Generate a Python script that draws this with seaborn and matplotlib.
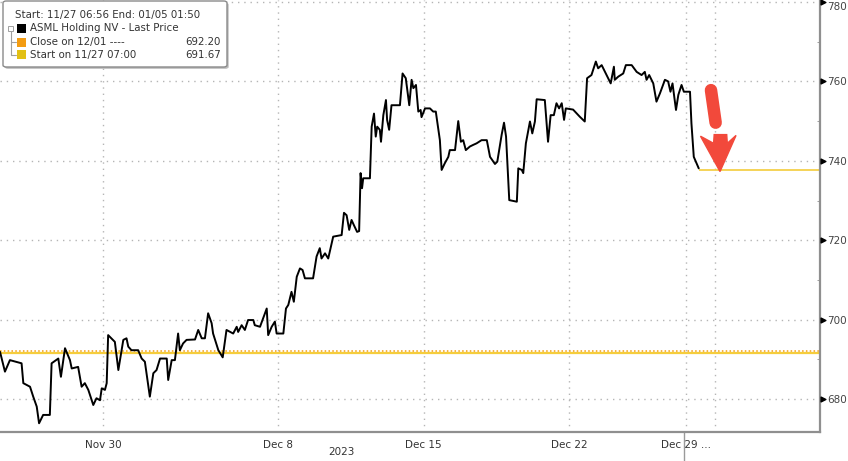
import numpy as np
import pandas as pd
import matplotlib
matplotlib.use("Agg")
import matplotlib.pyplot as plt
import matplotlib.transforms as mtransforms
from matplotlib.patches import FancyBboxPatch, Rectangle, Polygon
import seaborn as sns

# ASML intraday price, x = trading-day index (0 = Nov 27 open)
day_pos = [
    -0.53, -0.36, -0.19, 0.21, 0.27, 0.50, 0.61, 0.73, 0.81, 0.95, 1.18, 1.24,
    1.47, 1.56, 1.70, 1.87, 1.93, 2.15, 2.27, 2.38, 2.50, 2.67, 2.78, 2.90,
    2.96, 3.07, 3.13, 3.18, 3.41, 3.53, 3.70, 3.81, 3.87, 3.98, 4.21, 4.33,
    4.44, 4.61, 4.73, 4.84, 4.96, 5.19, 5.24, 5.36, 5.47, 5.58, 5.64, 5.75,
    5.87, 6.16, 6.27, 6.39, 6.50, 6.61, 6.73, 6.78, 6.96, 7.11, 7.24, 7.47,
    7.59, 7.64, 7.76, 7.87, 7.98, 8.16, 8.21, 8.39, 8.62, 8.67, 8.79, 8.90,
    8.96, 9.19, 9.28, 9.36, 9.47, 9.55, 9.65, 9.76, 9.85, 9.93, 10.21, 10.33,
    10.44, 10.50, 10.62, 10.73, 10.90, 11.19, 11.27, 11.36, 11.45, 11.53, 11.61, 11.72,
    11.79, 11.84, 11.89, 11.93, 12.16, 12.22, 12.30, 12.36, 12.41, 12.50, 12.54, 12.62,
    12.71, 12.75, 12.82, 12.90, 13.19, 13.28, 13.39, 13.51, 13.59, 13.65, 13.74, 13.82,
    13.90, 13.93, 14.05, 14.22, 14.33, 14.42, 14.56, 14.62, 14.73, 14.85, 14.90, 15.08,
    15.19, 15.28, 15.36, 15.45, 15.59, 15.70, 15.82, 15.99, 16.17, 16.28, 16.45, 16.53,
    16.68, 16.76, 16.83, 16.94, 17.20, 17.25, 17.37, 17.42, 17.51, 17.65, 17.73, 17.82,
    17.88, 18.16, 18.27, 18.36, 18.47, 18.56, 18.65, 18.74, 18.82, 18.88, 19.13, 19.36,
    19.53, 19.61, 19.76, 19.91, 19.99, 20.11, 20.28, 20.42, 20.53, 20.56, 20.68, 20.85,
    20.94, 21.14, 21.31, 21.48, 21.59, 21.65, 21.74, 21.88, 21.99, 22.11, 22.28, 22.39,
    22.47, 22.54, 22.66, 22.74, 22.85, 22.93, 23.14, 23.19, 23.27, 23.44,
]
price = [
    691.9, 686.9, 689.8, 689.0, 684.0, 683.1, 680.6, 678.1, 673.9, 676.0, 676.0, 689.0,
    690.2, 685.6, 692.8, 689.8, 687.7, 688.1, 683.1, 684.0, 682.3, 678.5, 680.2, 679.7,
    682.7, 682.3, 684.0, 696.1, 694.4, 687.3, 694.9, 695.3, 693.2, 692.3, 692.3, 690.2,
    689.4, 680.6, 686.5, 687.3, 690.2, 690.2, 684.8, 689.8, 689.8, 696.5, 692.3, 694.0,
    694.9, 695.0, 697.4, 695.3, 695.3, 701.6, 699.1, 696.5, 692.3, 690.5, 697.4, 696.5,
    698.2, 696.9, 698.6, 697.4, 699.9, 699.9, 698.6, 698.2, 702.8, 696.1, 698.2, 699.5,
    696.5, 696.5, 702.8, 703.7, 707.0, 704.5, 710.8, 712.9, 712.5, 710.4, 710.4, 715.9,
    718.0, 715.4, 716.7, 715.4, 720.9, 721.3, 726.9, 726.3, 722.6, 725.1, 723.8, 722.1,
    722.3, 736.9, 733.1, 735.6, 735.6, 748.6, 751.9, 746.1, 748.6, 747.8, 744.8, 751.5,
    755.3, 750.3, 747.8, 754.0, 754.0, 762.0, 760.8, 754.0, 760.4, 758.3, 759.1, 752.4,
    752.8, 751.0, 753.2, 753.2, 752.4, 752.4, 745.2, 737.7, 739.4, 741.0, 742.7, 742.7,
    750.0, 744.8, 745.2, 742.7, 743.6, 744.0, 744.4, 745.2, 745.2, 741.0, 739.2, 739.8,
    746.6, 749.6, 746.1, 730.1, 729.7, 738.1, 737.7, 736.9, 744.4, 749.9, 746.9, 749.9,
    755.5, 755.3, 744.8, 751.5, 751.5, 754.5, 753.2, 754.5, 750.3, 753.2, 752.9, 751.1,
    749.9, 760.8, 761.6, 765.0, 763.3, 764.1, 761.6, 759.5, 763.7, 760.4, 761.2, 762.0,
    764.1, 764.1, 762.4, 761.6, 762.4, 760.4, 761.6, 759.5, 754.9, 757.0, 760.4, 760.0,
    757.4, 759.5, 752.8, 756.6, 759.1, 757.4, 757.4, 749.4, 741.0, 738.1,
]
last_price = 737.7
close_1201 = 692.20
start_1127 = 691.67

x_ticks = [3, 9, 14, 19, 23, 24]
x_labels = ["Nov 30", "Dec 8", "Dec 15", "Dec 22", "Dec 29 ...", ""]
y_ticks = [680, 700, 720, 740, 760, 780]

W, H = 848, 461
sns.set_style("white")
plt.rcParams['font.family'] = ['DejaVu Sans']

df = pd.DataFrame({"day": day_pos, "price": price})

fig = plt.figure(figsize=(W / 100, H / 100), dpi=100)
ax = fig.add_axes([0, 29 / H, 820 / W, 432 / H])

# reference lines
ax.axhline(start_1127, color="#f5cd3c", lw=1.6, zorder=2)
ax.axhline(close_1201, color="#f39c12", lw=1.1, ls=(0, (1, 1.5)), zorder=2)
ax.hlines(last_price, day_pos[-1], 27.6, color="#f5d04a", lw=1.3, zorder=2)

sns.lineplot(data=df, x="day", y="price", color="black", lw=1.4, ax=ax,
             sort=False, zorder=3)

ax.set_xlim(-0.53, 27.6)
ax.set_ylim(671.7, 780.5)
ax.set_xlabel("")
ax.set_ylabel("")

# axes frame
for s in ["top", "left"]:
    ax.spines[s].set_visible(False)
for s in ["right", "bottom"]:
    ax.spines[s].set_color("#8f8f8f")
    ax.spines[s].set_linewidth(1.6)

ax.grid(True, color="#b5b5b5", ls=(0, (1, 3.5)), lw=1.0)

ax.set_xticks(x_ticks)
ax.set_xticklabels(x_labels)
ax.set_xticks(np.arange(-0.5, 27.6, 0.5), minor=True)
ax.tick_params(axis="x", which="major", length=4, color="#8f8f8f",
               labelsize=7.5, labelcolor="#333333", pad=2)
ax.tick_params(axis="x", which="minor", length=2.5, color="#8f8f8f")

ax.yaxis.tick_right()
ax.set_yticks(y_ticks)
ax.set_yticklabels([str(v) for v in y_ticks])
ax.set_yticks(np.arange(690, 781, 20), minor=True)
ax.tick_params(axis="y", which="major", length=0, pad=5,
               labelsize=7.5, labelcolor="#444444")
ax.tick_params(axis="y", which="minor", length=2, color="#8f8f8f", direction="in")
# top label sits at the figure edge; keep it fully inside
ax.get_yticklabels()[-1].set_va("top")

# black pointer triangles on the price axis
tr = mtransforms.blended_transform_factory(ax.transAxes, ax.transData)
ax.scatter([1.004] * len(y_ticks), y_ticks, marker=">", s=12, c="black",
           transform=tr, clip_on=False, zorder=5)

# year label and separator below the axis
trx = mtransforms.blended_transform_factory(ax.transData, ax.transAxes)
ax.text(11.2, -0.047, "2023", transform=trx, ha="center", va="center",
        fontsize=7.5, color="#333333")
ax.plot([22.93, 22.93], [0, -0.07], transform=trx, color="#9a9a9a",
        lw=1.0, clip_on=False)

# red arrow annotation
red = "#f2493b"
ax.plot([23.86, 24.02], [757.8, 749.6], color=red, lw=9,
        solid_capstyle="round", zorder=6)
ax.add_patch(Polygon([[23.5, 746.2], [23.95, 744.4], [23.97, 746.6],
                      [24.4, 746.6], [24.42, 744.4], [24.72, 746.4],
                      [24.17, 737.3]], closed=True, color=red, zorder=6))


# legend box, drawn in figure pixel coordinates
def fp(px, py):
    return px / W, 1 - py / H


x0, y0 = fp(3, 67)
x1, y1 = fp(227, 1)
fig.patches.append(FancyBboxPatch((x0 + 0.002, y0 - 0.004), x1 - x0, y1 - y0,
                                  boxstyle="round,pad=0,rounding_size=0.004",
                                  transform=fig.transFigure, facecolor="#bdbdbd",
                                  edgecolor="none", zorder=9))
fig.patches.append(FancyBboxPatch((x0, y0), x1 - x0, y1 - y0,
                                  boxstyle="round,pad=0,rounding_size=0.004",
                                  transform=fig.transFigure, facecolor="white",
                                  edgecolor="#8a8a8a", lw=1.0, zorder=10))

txt_color = "#333333"
fs = 7.4
fig.text(*fp(15, 15), "Start: 11/27 06:56 End: 01/05 01:50", fontsize=fs,
         color=txt_color, va="center", ha="left", zorder=11)
rows = [
    (28.3, "black", "ASML Holding NV - Last Price", ""),
    (42.3, "#f39c12", "Close on 12/01 ----", "692.20"),
    (55.0, "#e2c014", "Start on 11/27 07:00", "691.67"),
]
for py, col, label, val in rows:
    rx, ry = fp(17, py + 4.5)
    fig.patches.append(Rectangle((rx, ry), 9 / W, 9 / H, transform=fig.transFigure,
                                 facecolor=col, edgecolor="none", zorder=11))
    fig.text(*fp(30.5, py), label, fontsize=fs, color=txt_color,
             va="center", ha="left", zorder=11)
    if val:
        fig.text(*fp(221, py), val, fontsize=fs, color=txt_color,
                 va="center", ha="right", zorder=11)

# tree connector at the left of the legend rows
tx, tty = fp(10.5, 30)
_, tby = fp(10.5, 55)
fig.add_artist(plt.Line2D([tx, tx], [tty, tby], transform=fig.transFigure,
                          color="#a0a0a0", lw=0.8, zorder=11))
for py in [42.3, 55.0]:
    a = fp(10.5, py)
    b = fp(16, py)
    fig.add_artist(plt.Line2D([a[0], b[0]], [a[1], b[1]], transform=fig.transFigure,
                              color="#a0a0a0", lw=0.8, zorder=11))
bx, by = fp(8, 31)
fig.patches.append(Rectangle((bx, by), 5 / W, 5 / H, transform=fig.transFigure,
                             facecolor="white", edgecolor="#a0a0a0", lw=0.7, zorder=11))

fig.savefig("out.png", dpi=100)
